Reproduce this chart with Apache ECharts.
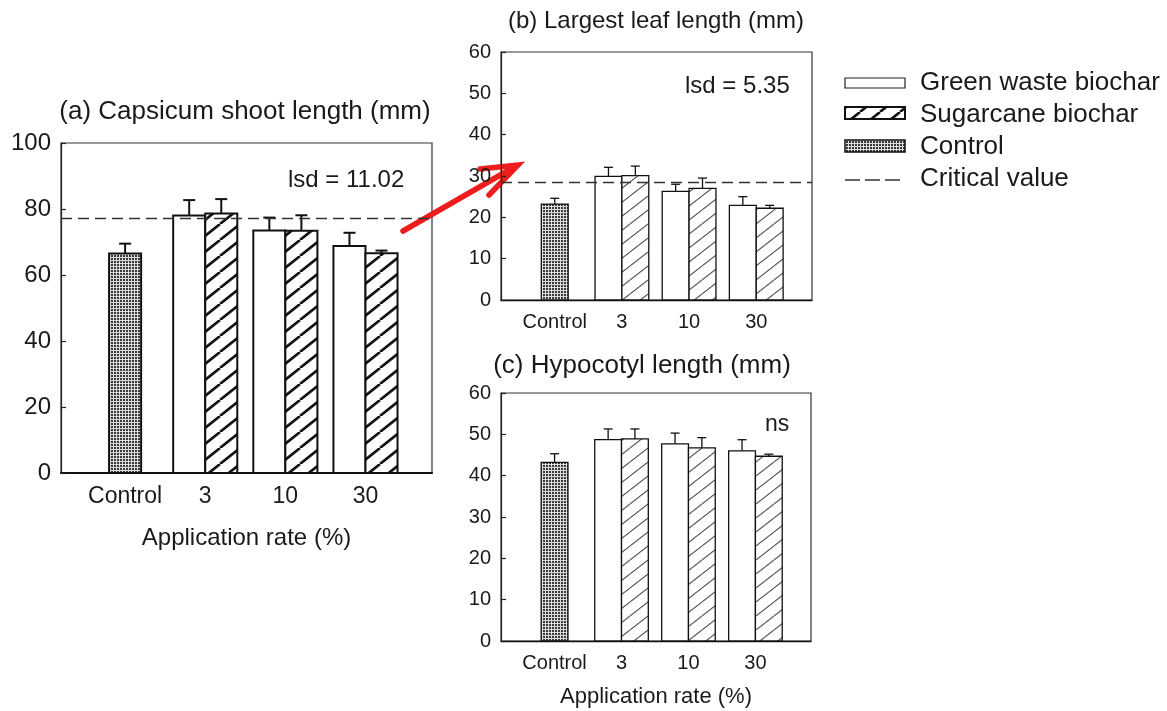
<!DOCTYPE html>
<html><head><meta charset="utf-8">
<script src="https://cdn.jsdelivr.net/npm/echarts@6/dist/echarts.min.js"></script>
<style>html,body{margin:0;padding:0;background:#fff}#chart{width:1167px;height:711px}</style>
</head><body><div id="chart"></div>
<script>
// ---------- data ----------
const categories = ['Control', '3', '10', '30'];
const legendNames = ['Green waste biochar', 'Sugarcane biochar', 'Control', 'Critical value'];
const xAxisTitle = 'Application rate (%)';
const panelTitles = ['(a) Capsicum shoot length (mm)', '(b) Largest leaf length (mm)', '(c) Hypocotyl length (mm)'];
const panelNotes = ['lsd = 11.02', 'lsd = 5.35', 'ns'];
const shootTicks = [0, 100, 20];   // min, max, interval
const leafTicks = [0, 60, 10];
const hypoTicks = [0, 60, 10];

// (a) Capsicum shoot length
const shootControl = [66.5];
const shootControlErr = [3.0];
const shootGreen = [78.0, 73.5, 68.8];
const shootGreenErr = [4.7, 3.9, 4.0];
const shootSugar = [78.6, 73.4, 66.6];
const shootSugarErr = [4.4, 4.7, 0.8];
const shootCritical = [77.1];

// (b) Largest leaf length
const leafControl = [23.2];
const leafControlErr = [1.4];
const leafGreen = [29.9, 26.3, 22.9];
const leafGreenErr = [2.2, 1.7, 2.1];
const leafSugar = [30.1, 27.0, 22.2];
const leafSugarErr = [2.3, 2.5, 0.7];
const leafCritical = [28.4];

// (c) Hypocotyl length
const hypoControl = [43.2];
const hypoControlErr = [2.1];
const hypoGreen = [48.7, 47.7, 46.0];
const hypoGreenErr = [2.6, 2.6, 2.7];
const hypoSugar = [48.9, 46.7, 44.7];
const hypoSugarErr = [2.4, 2.5, 0.5];
const hypoCritical = [];

// ---------- patterns ----------
function hatchCanvas(w, h, lw, color) {
  const c = document.createElement('canvas'); c.width = w; c.height = h;
  const g = c.getContext('2d');
  g.fillStyle = '#fff'; g.fillRect(0, 0, w, h);
  g.strokeStyle = color; g.lineWidth = lw; g.beginPath();
  for (const k of [-1, 0, 1]) { g.moveTo(k * w, h); g.lineTo(k * w + w, 0); }
  g.stroke();
  return c;
}
function stippleCanvas() {
  const c = document.createElement('canvas'); c.width = 3; c.height = 3;
  const g = c.getContext('2d');
  g.fillStyle = '#dcdcdc'; g.fillRect(0, 0, 3, 3);
  g.fillStyle = '#3a3a3a'; g.fillRect(0, 0, 2, 2);
  return c;
}
const hatchThick = { image: hatchCanvas(20, 16, 2.6, '#111'), repeat: 'repeat' };
const hatchThin = { image: hatchCanvas(18, 14, 1.1, '#555'), repeat: 'repeat' };
const stipple = { image: stippleCanvas(), repeat: 'repeat' };

const FONT = '"Liberation Sans", Arial, sans-serif';
const TXT = '#1a1a1a';
const HALF = 0.2; // half bar width in category units

function renderer(fill, lw, cap) {
  return function (params, api) {
    const x = api.value(0), y = api.value(1), e = api.value(2);
    const p0 = api.coord([x - HALF, 0]);
    const p1 = api.coord([x + HALF, y]);
    const pe = api.coord([x, y + e]);
    const es = { stroke: '#111', lineWidth: lw };
    return {
      type: 'group',
      children: [
        { type: 'line', shape: { x1: pe[0], y1: p1[1], x2: pe[0], y2: pe[1] }, style: es },
        { type: 'line', shape: { x1: pe[0] - cap / 2, y1: pe[1], x2: pe[0] + cap / 2, y2: pe[1] }, style: es },
        { type: 'rect', shape: { x: p0[0], y: p1[1], width: p1[0] - p0[0], height: p0[1] - p1[1] },
          style: { fill: fill, stroke: '#111', lineWidth: lw } }
      ]
    };
  };
}

const panels = [
  { grid: { left: 61, right: 735, top: 143, bottom: 238 }, ticks: shootTicks,
    control: shootControl, controlErr: shootControlErr, green: shootGreen, greenErr: shootGreenErr,
    sugar: shootSugar, sugarErr: shootSugarErr, critical: shootCritical,
    font: 23, yfont: 24, lw: 2, cap: 12, hatch: hatchThick, axisName: true, nameSize: 24, nameGap: 53 },
  { grid: { left: 501, right: 355, top: 52, bottom: 411 }, ticks: leafTicks,
    control: leafControl, controlErr: leafControlErr, green: leafGreen, greenErr: leafGreenErr,
    sugar: leafSugar, sugarErr: leafSugarErr, critical: leafCritical,
    font: 20, yfont: 20, lw: 1.3, cap: 9, hatch: hatchThin, axisName: false },
  { grid: { left: 501, right: 356, top: 393, bottom: 70 }, ticks: hypoTicks,
    control: hypoControl, controlErr: hypoControlErr, green: hypoGreen, greenErr: hypoGreenErr,
    sugar: hypoSugar, sugarErr: hypoSugarErr, critical: hypoCritical,
    font: 20, yfont: 20, lw: 1.3, cap: 9, hatch: hatchThin, axisName: true, nameSize: 22, nameGap: 45 }
];

const grids = [], xAxes = [], yAxes = [], series = [];
panels.forEach((p, i) => {
  grids.push(Object.assign({ show: true, borderColor: '#333', borderWidth: 1.2, backgroundColor: 'transparent' }, p.grid));
  xAxes.push({
    type: 'value', gridIndex: i, min: -0.8, max: 3.83,
    name: p.axisName ? xAxisTitle : '', nameLocation: 'middle', nameGap: p.nameGap || 0,
    nameTextStyle: { fontSize: p.nameSize || 20, color: TXT, fontFamily: FONT },
    axisLine: { show: true, onZero: false, lineStyle: { color: '#111', width: p.lw } },
    axisTick: { show: false }, splitLine: { show: false },
    axisLabel: { customValues: [0, 1, 2, 3], formatter: v => categories[Math.round(v)],
      fontSize: p.font, color: TXT, fontFamily: FONT, margin: 12 }
  });
  yAxes.push({
    type: 'value', gridIndex: i, min: p.ticks[0], max: p.ticks[1], interval: p.ticks[2],
    axisLine: { show: true, onZero: false, lineStyle: { color: '#222', width: 1.2 } },
    axisTick: { show: true, inside: true, length: 5, lineStyle: { color: '#222', width: 1.2 } },
    splitLine: { show: false },
    axisLabel: { fontSize: p.yfont, color: TXT, fontFamily: FONT, margin: 10 }
  });
  const ctrlData = p.control.map((v, k) => [k, v, p.controlErr[k]]);
  const greenData = p.green.map((v, k) => [k + 1 - HALF, v, p.greenErr[k]]);
  const sugarData = p.sugar.map((v, k) => [k + 1 + HALF, v, p.sugarErr[k]]);
  series.push({ type: 'custom', name: legendNames[2], xAxisIndex: i, yAxisIndex: i, data: ctrlData,
    renderItem: renderer(stipple, p.lw, p.cap), clip: false });
  series.push({ type: 'custom', name: legendNames[0], xAxisIndex: i, yAxisIndex: i, data: greenData,
    renderItem: renderer('#fff', p.lw, p.cap), clip: false });
  series.push({ type: 'custom', name: legendNames[1], xAxisIndex: i, yAxisIndex: i, data: sugarData,
    renderItem: renderer(p.hatch, p.lw, p.cap), clip: false,
    markLine: p.critical.length ? {
      silent: true, symbol: 'none', label: { show: false },
      lineStyle: { type: [11, 6], color: '#333', width: 1.4 },
      data: p.critical.map(c => ({ yAxis: c }))
    } : undefined });
});

const text = (x, y, str, size, align) => ({
  type: 'text', x: x, y: y,
  style: { text: str, fontSize: size, fontFamily: FONT, fill: TXT, textAlign: align || 'left', textVerticalAlign: 'middle' }
});

const graphic = [
  text(245, 112, panelTitles[0], 26, 'center'),
  text(656, 21, panelTitles[1], 24, 'center'),
  text(642, 366, panelTitles[2], 26, 'center'),
  text(288, 180, panelNotes[0], 24),
  text(685, 86, panelNotes[1], 24),
  text(765, 425, panelNotes[2], 23),
  // legend
  { type: 'rect', shape: { x: 845, y: 78, width: 60, height: 10 }, style: { fill: '#fff', stroke: '#222', lineWidth: 1.2 } },
  { type: 'rect', shape: { x: 845, y: 107, width: 60, height: 12 }, style: { fill: hatchThick, stroke: '#111', lineWidth: 2 } },
  { type: 'rect', shape: { x: 845, y: 140, width: 60, height: 12 }, style: { fill: stipple, stroke: '#111', lineWidth: 1.5 } },
  { type: 'line', shape: { x1: 845, y1: 180, x2: 904, y2: 180 }, style: { stroke: '#333', lineWidth: 1.4, lineDash: [15, 5] } },
  text(920, 83, legendNames[0], 26),
  text(920, 115, legendNames[1], 26),
  text(920, 147, legendNames[2], 26),
  text(920, 179, legendNames[3], 26),
  // red arrow
  { type: 'polyline', shape: { points: [[403, 231], [516, 166]] }, style: { stroke: '#ee1d1d', lineWidth: 5.5, lineCap: 'round' } },
  { type: 'polyline', shape: { points: [[480, 169], [518, 165], [489, 195]] }, style: { stroke: '#ee1d1d', lineWidth: 5.5, lineCap: 'round', lineJoin: 'miter', fill: null } }
];

const chart = echarts.init(document.getElementById('chart'), null, { renderer: 'canvas' });
chart.setOption({
  animation: false,
  backgroundColor: '#fff',
  grid: grids, xAxis: xAxes, yAxis: yAxes, series: series,
  graphic: graphic
});
</script></body></html>
